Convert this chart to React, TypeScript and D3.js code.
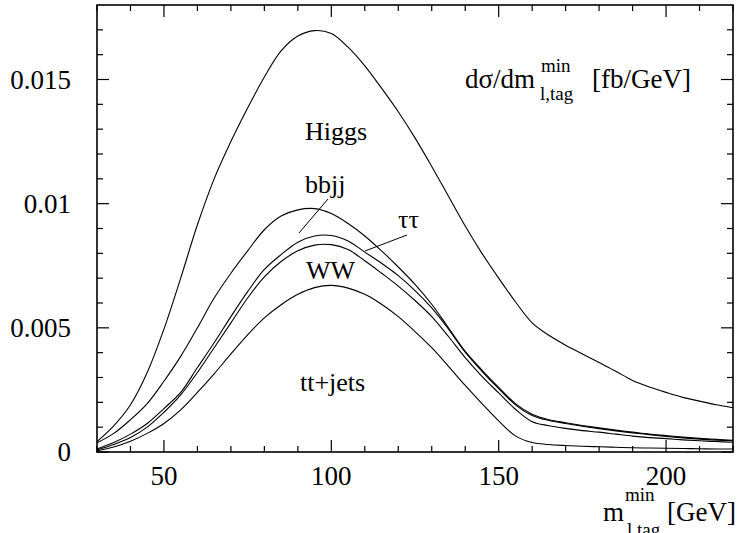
import React from 'react';
import * as d3 from 'd3';

// m_{l,tag}^{min} bins [GeV]
const massBins = [
  30, 35, 40, 45, 50, 55, 60, 65, 70, 75,
  80, 85, 90, 95, 100, 105, 110, 115, 120, 125,
  130, 135, 140, 145, 150, 155, 160, 165, 170, 175,
  180, 185, 190, 195, 200, 205, 210, 215, 220,
];

// dσ/dm in units of 1e-3 fb/GeV
const UNIT = 1e-3;
const higgs = [
  0.42, 1.05, 1.9, 3.2, 4.95, 7.0, 9.15, 11.0, 12.5, 13.85,
  15.1, 16.15, 16.75, 16.97, 16.85, 16.3, 15.55, 14.65, 13.7, 12.65,
  11.5, 10.3, 9.1, 8.0, 7.0, 6.05, 5.2, 4.7, 4.3, 3.95,
  3.6, 3.25, 2.88, 2.62, 2.4, 2.2, 2.05, 1.9, 1.78,
];
const bbjj = [
  0.37, 0.75, 1.3, 1.95, 2.85, 3.85, 5.0, 6.2, 7.2, 8.1,
  8.95, 9.5, 9.75, 9.8, 9.6, 9.2, 8.7, 8.1, 7.45, 6.75,
  5.95, 5.0, 4.05, 3.3, 2.6, 1.95, 1.52, 1.3, 1.18, 1.07,
  0.97, 0.88, 0.8, 0.72, 0.66, 0.6, 0.55, 0.51, 0.47,
];
const tautau = [
  0.12, 0.38, 0.72, 1.15, 1.75, 2.4, 3.4, 4.4, 5.45, 6.46,
  7.35, 7.95, 8.45, 8.7, 8.72, 8.5, 8.05, 7.6, 7.1, 6.5,
  5.8, 4.95, 4.02, 3.25, 2.55, 1.9, 1.47, 1.27, 1.15, 1.04,
  0.94, 0.85, 0.77, 0.7, 0.63, 0.57, 0.52, 0.48, 0.45,
];
const ww = [
  0.08, 0.3, 0.58, 1.0, 1.6, 2.3, 3.2, 4.2, 5.2, 6.2,
  7.05, 7.67, 8.1, 8.33, 8.35, 8.15, 7.7, 7.2, 6.68, 6.1,
  5.45, 4.65, 3.8, 3.05, 2.38, 1.72, 1.22, 1.06, 0.95, 0.86,
  0.8, 0.72, 0.64, 0.58, 0.54, 0.49, 0.45, 0.42, 0.39,
];
const ttjets = [
  0.05, 0.2, 0.43, 0.75, 1.15, 1.7, 2.4, 3.15, 3.95, 4.72,
  5.4, 5.93, 6.35, 6.62, 6.71, 6.6, 6.35, 5.95, 5.45, 4.85,
  4.2, 3.45, 2.68, 1.95, 1.25, 0.65, 0.38, 0.3, 0.26, 0.23,
  0.21, 0.19, 0.17, 0.16, 0.15, 0.14, 0.13, 0.12, 0.12,
];

const xMajor = [50, 100, 150, 200];
const yMajor = [0, 0.005, 0.01, 0.015];
const yTickLabels = ['0', '0.005', '0.01', '0.015'];

const W = 737, H = 533;
const left = 97, right = 733, top = 5, bottom = 452;
const FONT = '"Liberation Serif", "Times New Roman", serif';

export default function App() {
  const x = d3.scaleLinear().domain([30, 220]).range([left, right]);
  const y = d3.scaleLinear().domain([0, 0.018]).range([bottom, top]);

  const line = d3.line<number>()
    .x((_, i) => x(massBins[i]))
    .y(d => y(d * UNIT))
    .curve(d3.curveCatmullRom.alpha(0.5));

  const series = [higgs, bbjj, tautau, ww, ttjets];

  const xMinor = d3.range(30, 221, 10).filter(v => !xMajor.includes(v));
  const yMinor = d3.range(1, 18).map(v => v * 0.001).filter(v => Math.round(v * 1000) % 5 !== 0);

  const majLen = 12, minLen = 6;

  return (
    <svg width={W} height={H} style={{ position: 'absolute', left: 0, top: 0, background: '#fff' }}
      fontFamily={FONT}>
      <rect x={0} y={0} width={W} height={H} fill="#fff" />
      <g stroke="#000" fill="none">
        {series.map((s, i) => <path key={i} d={line(s) || ''} strokeWidth={1.1} />)}
      </g>

      {/* ticks on all four sides */}
      <g stroke="#000" strokeWidth={1.2}>
        {xMajor.map(v => (
          <g key={'xm' + v}>
            <line x1={x(v)} x2={x(v)} y1={bottom} y2={bottom - majLen} />
            <line x1={x(v)} x2={x(v)} y1={top} y2={top + majLen} />
          </g>
        ))}
        {xMinor.map(v => (
          <g key={'xn' + v}>
            <line x1={x(v)} x2={x(v)} y1={bottom} y2={bottom - minLen} />
            <line x1={x(v)} x2={x(v)} y1={top} y2={top + minLen} />
          </g>
        ))}
        {yMajor.map(v => (
          <g key={'ym' + v}>
            <line x1={left} x2={left + majLen} y1={y(v)} y2={y(v)} />
            <line x1={right} x2={right - majLen} y1={y(v)} y2={y(v)} />
          </g>
        ))}
        {yMinor.map(v => (
          <g key={'yn' + v}>
            <line x1={left} x2={left + minLen} y1={y(v)} y2={y(v)} />
            <line x1={right} x2={right - minLen} y1={y(v)} y2={y(v)} />
          </g>
        ))}
      </g>
      <rect x={left} y={top} width={right - left} height={bottom - top} fill="none" stroke="#000" strokeWidth={1.6} />

      {/* tick labels */}
      <g fontSize={27} fill="#000">
        {yMajor.map((v, i) => (
          <text key={'yl' + v} x={71} y={y(v) + 9} textAnchor="end">{yTickLabels[i]}</text>
        ))}
        {xMajor.map(v => (
          <text key={'xl' + v} x={x(v)} y={485} textAnchor="middle">{v}</text>
        ))}
      </g>

      {/* curve labels */}
      <g fontSize={26} fill="#000">
        <text x={305} y={140}>Higgs</text>
        <text x={305} y={193}>bbjj</text>
        <text x={398} y={228}>ττ</text>
        <text x={306} y={279}>WW</text>
        <text x={300} y={391}>tt+jets</text>
      </g>
      <g stroke="#000" strokeWidth={1}>
        <line x1={328} y1={199} x2={299} y2={233} />
        <line x1={407} y1={235} x2={365} y2={251} />
      </g>

      {/* y title */}
      <g fill="#000">
        <text x={465} y={88} fontSize={27}>dσ/dm</text>
        <text x={541} y={72} fontSize={19}>min</text>
        <text x={540} y={100} fontSize={19}>l,tag</text>
        <text x={592} y={88} fontSize={27}>[fb/GeV]</text>
      </g>

      {/* x title */}
      <g fill="#000">
        <text x={603} y={521} fontSize={27}>m</text>
        <text x={625} y={501} fontSize={19}>min</text>
        <text x={627} y={536} fontSize={19}>l,tag</text>
        <text x={667} y={521} fontSize={27}>[GeV]</text>
      </g>
    </svg>
  );
}
